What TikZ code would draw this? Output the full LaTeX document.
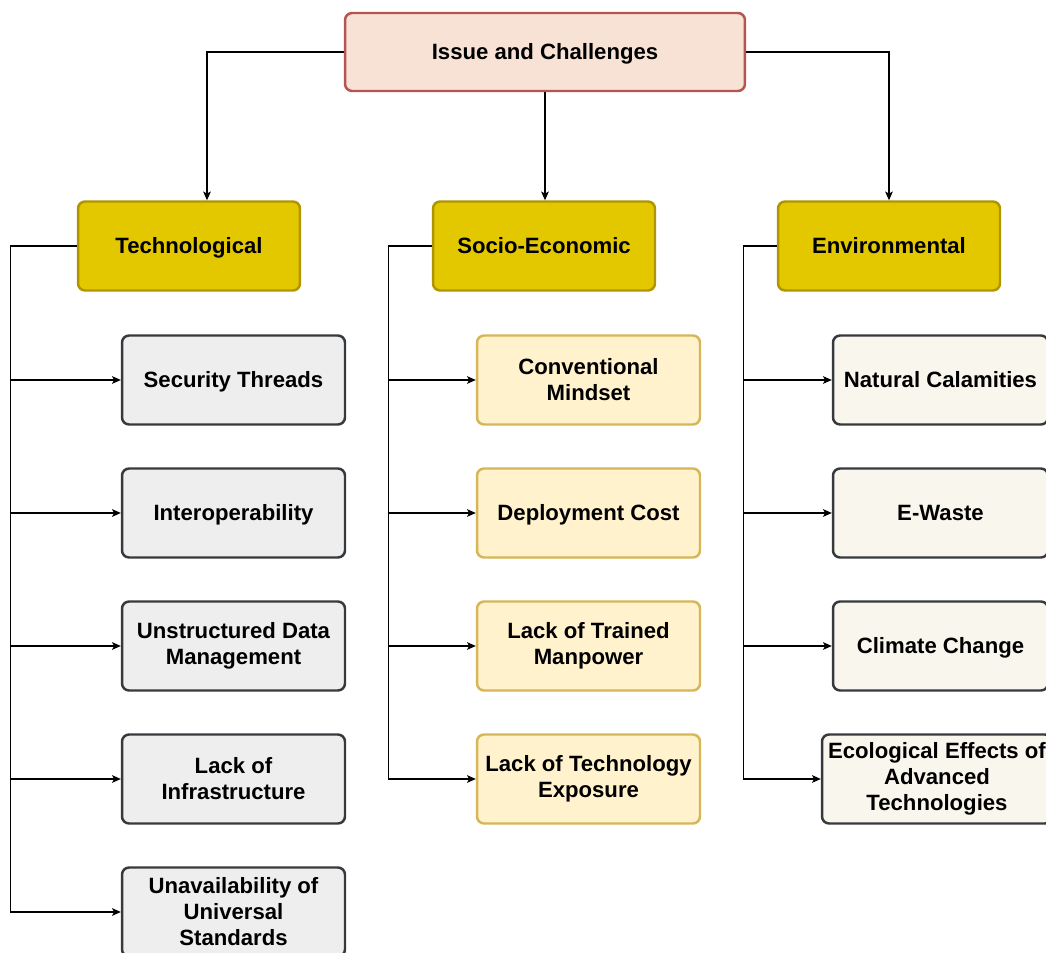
\documentclass[tikz,border=0pt]{standalone}
\usepackage{fontspec}
\setmainfont{Liberation Sans}
\usepackage{xcolor}
\usetikzlibrary{arrows.meta}
\usetikzlibrary{positioning}

\definecolor{rootfill}{HTML}{F8E2D6}
\definecolor{rootline}{HTML}{B85450}
\definecolor{catfill}{HTML}{E3C800}
\definecolor{catline}{HTML}{B09500}
\definecolor{techfill}{HTML}{EEEEEE}
\definecolor{socfill}{HTML}{FFF2CC}
\definecolor{socline}{HTML}{D6B656}
\definecolor{envfill}{HTML}{F9F7ED}
\definecolor{darkline}{HTML}{36393D}

\begin{document}
\begin{tikzpicture}[x=0.02cm,y=-0.02cm,
	box/.style={draw,rounded corners=4pt,line width=1.4pt,align=center,inner sep=2pt,
		font=\fontsize{12.6}{14.8}\selectfont\bfseries},
	oneline/.style={text height=1em,text depth=0.2em},
	rootbox/.style={box,oneline,fill=rootfill,draw=rootline,minimum width=8cm,minimum height=1.56cm},
	catbox/.style={box,oneline,fill=catfill,draw=catline,minimum width=4.44cm,minimum height=1.78cm},
	techbox/.style={box,fill=techfill,draw=darkline,minimum width=4.46cm,minimum height=1.78cm},
	socbox/.style={box,fill=socfill,draw=socline,minimum width=4.46cm,minimum height=1.78cm},
	envbox/.style={box,fill=envfill,draw=darkline,minimum width=4.3cm,minimum height=1.78cm},
	link/.style={-{Stealth[length=5pt,width=4.4pt,inset=1.2pt]},line width=0.6pt,black}]
	\clip (0,0) rectangle (1046,953);
	\fill[white] (0,0) rectangle (1046,953);
	% top and categories
	\node[rootbox] (root) at (545,52) {Issue and Challenges};
	\node[catbox] (tech) at (189,246) {Technological};
	\node[catbox] (soc) at (544,246) {Socio-Economic};
	\node[catbox] (env) at (889,246) {Environmental};
	\draw[link] (root.west) -| ([xshift=0.36cm]tech.north);
	\draw[link] (root.south) -- (root.south |- soc.north);
	\draw[link] (root.east) -| (env.north);
	% technological
	\node[techbox,oneline] (sec) at (233.5,380) {Security Threads};
	\node[techbox,oneline] (inter) at (233.5,513) {Interoperability};
	\node[techbox] (data) at (233.5,646) {Unstructured Data\\Management};
	\node[techbox] (infra) at (233.5,779) {Lack of\\Infrastructure};
	\node[techbox] (std) at (233.5,912) {Unavailability of\\Universal\\Standards};
	\draw[link] (tech.west) -- ++(-66,0) |- (sec.west);
	\draw[link] (tech.west) -- ++(-66,0) |- (inter.west);
	\draw[link] (tech.west) -- ++(-66,0) |- (data.west);
	\draw[link] (tech.west) -- ++(-66,0) |- (infra.west);
	\draw[link] (tech.west) -- ++(-66,0) |- (std.west);
	% socio-economic
	\node[socbox] (mind) at (588.5,380) {Conventional\\Mindset};
	\node[socbox,oneline] (cost) at (588.5,513) {Deployment Cost};
	\node[socbox] (man) at (588.5,646) {Lack of Trained\\Manpower};
	\node[socbox] (expo) at (588.5,779) {Lack of Technology\\Exposure};
	\draw[link] (soc.west) -- ++(-43,0) |- (mind.west);
	\draw[link] (soc.west) -- ++(-43,0) |- (cost.west);
	\draw[link] (soc.west) -- ++(-43,0) |- (man.west);
	\draw[link] (soc.west) -- ++(-43,0) |- (expo.west);
	% environmental
	\node[envbox,oneline] (calam) at (940.5,380) {Natural Calamities};
	\node[envbox,oneline] (waste) at (940.5,513) {E-Waste};
	\node[envbox,oneline] (clim) at (940.5,646) {Climate Change};
	\node[envbox,minimum width=4.6cm] (eco) at (937,779) {Ecological Effects of\\Advanced\\Technologies};
	\draw[link] (env.west) -- ++(-33,0) |- (calam.west);
	\draw[link] (env.west) -- ++(-33,0) |- (waste.west);
	\draw[link] (env.west) -- ++(-33,0) |- (clim.west);
	\draw[link] (env.west) -- ++(-33,0) |- (eco.west);
\end{tikzpicture}
\end{document}
